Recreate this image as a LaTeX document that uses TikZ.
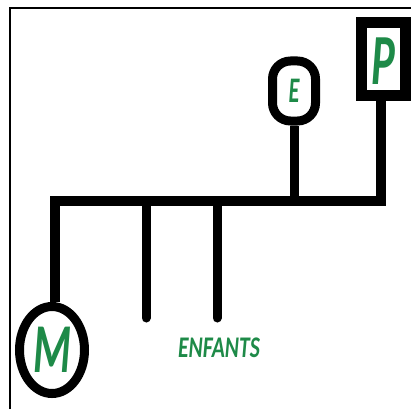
\documentclass[tikz,border=0pt]{standalone}
\usepackage{fontspec}
\setmainfont{Carlito}
\usetikzlibrary{shapes.geometric}
\definecolor{lettergreen}{HTML}{1E8A48}
\tikzset{
  thick line/.style={line width=10pt, line join=miter},
  kid line/.style={line width=9pt, line cap=round},
  person/.style={draw, line width=9pt, inner sep=0pt},
  letter/.style={text=lettergreen, xscale=0.62},
}
\begin{document}
\begin{tikzpicture}[x=1pt,y=-1pt]
\useasboundingbox (0,0) rectangle (411,409);
% frame
\draw[line width=1.5pt] (10,409) -- (10,8) -- (411,8);
% persons
\node[person, ellipse, minimum width=65pt, minimum height=87pt] (M) at (52,350) {};
\node[letter, font=\bfseries\itshape\fontsize{70}{70}\selectfont] at (M.center) {M};
\node[person, rectangle, rounded corners=18pt, minimum width=43pt, minimum height=60pt] (E) at (294,91) {};
\node[letter, font=\bfseries\itshape\fontsize{36}{36}\selectfont] at (E.center) {E};
\node[person, rectangle, line width=11pt, minimum width=44pt, minimum height=72pt] (P) at (383,59) {};
\node[letter, font=\bfseries\itshape\fontsize{72}{72}\selectfont] at ([yshift=-2pt]P.center) {P};
% bar
\coordinate (bl) at (55,201);
\coordinate (br) at (381,201);
\draw[thick line] (bl |- M.north) -- (bl) -- (br) -- (br |- P.south);
\draw[line width=9pt] (E.south) -- (E.south |- bl);
% children
\coordinate (c1) at (146,318);
\coordinate (c2) at (217,318);
\draw[kid line] (c1 |- bl) -- (c1);
\draw[kid line] (c2 |- bl) -- (c2);
\node[text=lettergreen, font=\bfseries\itshape\fontsize{30}{30}\selectfont, xscale=0.72] (enf) at (219,348) {ENFANTS};
\end{tikzpicture}
\end{document}
